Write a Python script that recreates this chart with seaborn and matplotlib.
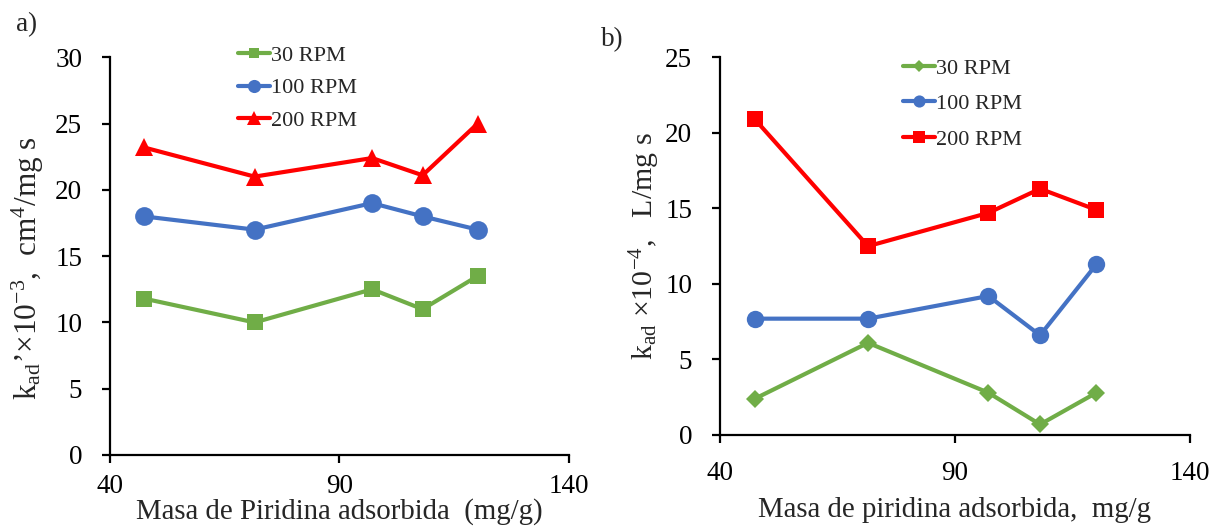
import numpy as np
import pandas as pd
import matplotlib
matplotlib.use("Agg")
import matplotlib.pyplot as plt
import seaborn as sns

# Adsorbed pyridine mass (mg/g), shared by both panels
masa = [47.4, 71.5, 97.1, 108.1, 120.1]

# Panel a) k_ad' x10^-3 (cm^4/mg s)
a_30 = [11.8, 10.0, 12.5, 11.0, 13.5]
a_100 = [18.0, 17.0, 19.0, 18.0, 17.0]
a_200 = [23.2, 21.0, 22.4, 21.1, 25.0]

# Panel b) k_ad x10^-4 (L/mg s)
b_30 = [2.4, 6.1, 2.8, 0.7, 2.8]
b_100 = [7.7, 7.7, 9.2, 6.6, 11.3]
b_200 = [20.9, 12.5, 14.7, 16.3, 14.9]

series_labels = ["30 RPM", "100 RPM", "200 RPM"]
xticks = [40, 90, 140]
a_yticks = [0, 5, 10, 15, 20, 25, 30]
b_yticks = [0, 5, 10, 15, 20, 25]

GREEN, BLUE, RED = "#70AD47", "#4472C4", "#FF0000"

sns.set_style("ticks")
plt.rcParams["font.family"] = ["Liberation Serif", "DejaVu Serif"]
plt.rcParams["mathtext.fontset"] = "custom"
plt.rcParams["mathtext.rm"] = "Liberation Serif"
plt.rcParams["mathtext.it"] = "Liberation Serif:italic"
plt.rcParams["axes.unicode_minus"] = True

W, H = 1220, 532
fig = plt.figure(figsize=(W / 100, H / 100), dpi=100)


def px_axes(x0, x1, ytop, ybot):
    return fig.add_axes([x0 / W, 1 - ybot / H, (x1 - x0) / W, (ybot - ytop) / H])


ax_a = px_axes(110, 569, 57.3, 455)
ax_b = px_axes(720, 1190, 57.3, 435)

TICK_FS = 19.5
XLAB_FS = 20.8
YLAB_FS = 22.5
LEG_FS = 16


def draw_panel(ax, data, styles, ylim, yticks):
    for vals, lab, (color, marker, ms) in zip(data, series_labels, styles):
        df = pd.DataFrame({"x": masa, "y": vals})
        sns.lineplot(data=df, x="x", y="y", ax=ax, color=color, marker=marker,
                     markersize=ms, markeredgewidth=0, linewidth=3,
                     label=lab, sort=False)
    ax.set_xlim(40, 140)
    ax.set_ylim(*ylim)
    ax.set_xticks(xticks)
    ax.set_yticks(yticks)
    ax.tick_params(axis="both", labelsize=TICK_FS, width=1.6, length=6,
                   color="black", labelcolor="black")
    ax.tick_params(axis="y", pad=14)
    for side in ("top", "right"):
        ax.spines[side].set_visible(False)
    for side in ("left", "bottom"):
        ax.spines[side].set_linewidth(1.6)
        ax.spines[side].set_color("black")


draw_panel(ax_a, [a_30, a_100, a_200],
           [(GREEN, "s", 11.3), (BLUE, "o", 13.5), (RED, "^", 13.5)],
           (0, 30), a_yticks)
draw_panel(ax_b, [b_30, b_100, b_200],
           [(GREEN, "D", 8.8), (BLUE, "o", 12.5), (RED, "s", 12)],
           (0, 25), b_yticks)

ax_a.tick_params(axis="x", pad=8)
ax_b.tick_params(axis="x", pad=13)

# Axis titles
ax_a.set_xlabel("Masa de Piridina adsorbida  (mg/g)", fontsize=XLAB_FS)
ax_a.xaxis.label.set_va("baseline")
ax_a.xaxis.set_label_coords(0.5, (455 - 519) / (455 - 57.3))

ax_b.set_xlabel("Masa de piridina adsorbida,  mg/g", fontsize=XLAB_FS)
ax_b.xaxis.label.set_va("baseline")
ax_b.xaxis.set_label_coords(0.5, (435 - 516.7) / (435 - 57.3))

ax_a.set_ylabel(r"k$_{\mathrm{ad}}$’×10$^{\mathrm{-3}}$,  cm$^{\mathrm{4}}$/mg s",
                fontsize=YLAB_FS)
ax_a.yaxis.label.set_va("center")
ax_a.yaxis.set_label_coords((28 - 110) / 459, (455 - 268) / (455 - 57.3))

ax_b.set_ylabel(r"k$_{\mathrm{ad}}$ ×10$^{\mathrm{-4}}$,   L/mg s", fontsize=21.5)
ax_b.yaxis.label.set_va("center")
ax_b.yaxis.set_label_coords((645 - 720) / 470, (435 - 246) / (435 - 57.3))

# Legends
leg_kw = dict(loc="upper left", bbox_transform=fig.transFigure, frameon=False,
              borderpad=0, borderaxespad=0, fontsize=LEG_FS, handlelength=1.45,
              handletextpad=0.05, markerscale=0.7)
ax_a.legend(bbox_to_anchor=(238 / W, 1 - 45 / H), labelspacing=0.55, **leg_kw)
ax_b.legend(bbox_to_anchor=(903 / W, 1 - 58 / H), labelspacing=0.68, **leg_kw)

# Panel tags
fig.text(27 / W, 1 - 25 / H, "a)", fontsize=TICK_FS, ha="center", va="center")
fig.text(612 / W, 1 - 40 / H, "b)", fontsize=TICK_FS, ha="center", va="center")

fig.savefig("out.png", dpi=100, facecolor="white")
